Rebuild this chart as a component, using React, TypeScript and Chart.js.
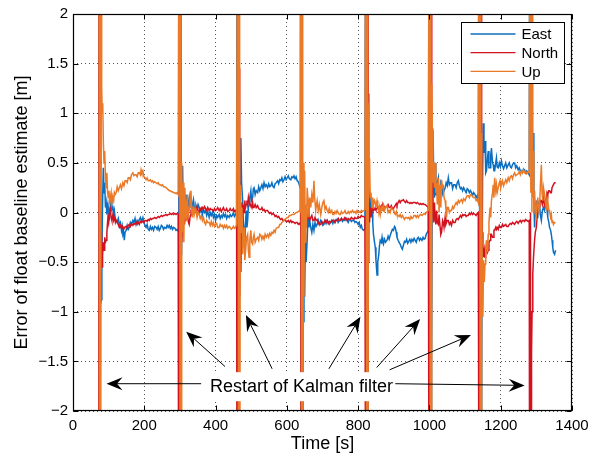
import React, { useEffect, useRef } from "react";
import { Chart, registerables } from "chart.js";

Chart.register(...registerables);

const seriesNames = ["East", "North", "Up"];
const seriesColors = ["#0b6fc1", "#d3121f", "#ea7a28"];
const xTickValues = [0, 200, 400, 600, 800, 1000, 1200, 1400];
const yTickValues = [-2, -1.5, -1, -0.5, 0, 0.5, 1, 1.5, 2];
const xTitle = "Time [s]";
const yTitle = "Error of float baseline estimate [m]";

// [time s, error m]
const eastData: number[][] = [
  [73,6],[74.5,-6],[76,6],[78,-0.6],[79.5,-0.88],[81,-0.4],[83,0.1],[85,0.45],[87,0.2],[89,0.3],[91,0.05],[93,0.1],[95,-0.02],[98,0.08],[100,0.02],[102,-0.08],[104,0.05],[107,0.12],[109,0.03],[112,0.05],[114,-0.02],[116,0.02],[118,-0.05],[121,-0.08],[124,-0.1],[127,-0.06],[130,-0.12],[133,-0.1],[136,-0.18],[138,-0.14],[140,-0.22],[142,-0.2],[144,-0.28],[146,-0.2],[149,-0.18],[152,-0.13],[155,-0.17],[158,-0.15],[161,-0.1],[164,-0.12],[168,-0.08],[171,-0.1],[174,-0.06],[177,-0.12],[180,-0.08],[183,-0.1],[186,-0.07],[189,-0.05],[192,-0.09],[196,-0.05],[199,-0.1],[202,-0.13],[205,-0.15],[208,-0.12],[211,-0.17],[214,-0.18],[217,-0.14],[220,-0.17],[223,-0.15],[226,-0.18],[229,-0.14],[233,-0.15],[236,-0.17],[239,-0.14],[242,-0.18],[245,-0.16],[248,-0.13],[251,-0.14],[254,-0.17],[257,-0.15],[261,-0.16],[264,-0.13],[267,-0.15],[270,-0.13],[273,-0.16],[276,-0.14],[279,-0.17],[282,-0.15],[286,-0.16],[289,-0.18],[292,-0.17],[295,-0.19],
  [297,6],[298.5,-6],[300,6],[301.5,-6],[303,-0.2],[304.5,-0.43],[306,0.1],[307.5,0.47],[309,0.1],[311,0.25],[313,0.05],[315,0.18],[317,0.05],[319,0.12],[322,0.02],[324,0.1],[326,0.15],[328,0.06],[331,0.1],[333,0.04],[335,0.08],[338,0.13],[340,0.06],[343,0.02],[345,0.07],[348,0.03],[351,0.08],[354,0.05],[357,0.01],[360,0.04],[363,-0.02],[366,0.03],[369,0],[372,0.02],[375,-0.03],[378,0.01],[382,-0.05],[385,0],[388,-0.03],[391,0],[394,-0.05],[397,-0.02],[400,-0.08],[403,-0.03],[406,-0.05],[410,-0.02],[413,-0.06],[416,-0.03],[419,-0.05],[422,-0.01],[425,-0.04],[428,-0.02],[431,-0.06],[434,-0.03],[438,-0.05],[441,-0.02],[444,-0.04],[447,-0.03],[450,0],[453,-0.04],[456,-0.02],[459,0.01],
  [461,6],[462.5,-6],[464,6],[465.5,-6],[467,-0.1],[469,0.3],[471,0.75],[473,0.3],[476,0.12],[478,-0.1],[480,-0.18],[482,-0.35],[484,-0.1],[486,0.02],[488,-0.15],[490,-0.08],[492,0.05],[494,0.08],[496,0.15],[499,0.22],[501,0.12],[504,0.15],[506,0.24],[508,0.25],[511,0.18],[514,0.22],[518,0.2],[521,0.26],[524,0.22],[527,0.25],[530,0.28],[533,0.24],[536,0.3],[539,0.26],[542,0.28],[546,0.25],[549,0.29],[552,0.26],[555,0.27],[558,0.3],[561,0.26],[564,0.25],[567,0.29],[570,0.3],[574,0.32],[577,0.29],[580,0.33],[583,0.32],[586,0.35],[589,0.31],[592,0.33],[595,0.36],[598,0.33],[601,0.35],[604,0.37],[607,0.34],[611,0.33],[614,0.36],[617,0.35],[620,0.37],[623,0.34],[626,0.36],[629,0.32],[632,0.31],[635,0.28],[637,0.25],
  [639,6],[640.5,-6],[642,6],[643.5,-6],[645,-0.6],[646.5,-1.1],[648,-0.42],[650,-0.85],[652,-0.2],[654,-0.5],[657,-0.28],[660,0.05],[662,-0.15],[664,-0.08],[667,-0.15],[670,-0.2],[673,-0.12],[676,-0.18],[679,-0.1],[682,-0.14],[685,-0.12],[688,-0.08],[691,-0.12],[695,-0.08],[698,-0.1],[701,-0.13],[704,-0.12],[707,-0.08],[710,-0.11],[713,-0.08],[716,-0.1],[719,-0.12],[723,-0.1],[726,-0.08],[729,-0.11],[732,-0.08],[735,-0.1],[738,-0.07],[741,-0.07],[744,-0.1],[747,-0.08],[750,-0.08],[753,-0.06],[756,-0.09],[760,-0.07],[763,-0.08],[766,-0.06],[769,-0.08],[772,-0.1],[775,-0.07],[778,-0.07],[781,-0.09],[784,-0.08],[788,-0.08],[791,-0.1],[794,-0.09],[797,-0.1],[800,-0.12],[803,-0.1],[806,-0.15],[809,-0.13],[812,-0.17],[816,-0.18],[819,-0.16],
  [822,6],[823.5,-6],[825,6],[826.5,-6],[828,1.2],[830,0.25],[832,0.1],[834,-0.02],[836,0.12],[839,0.08],[841,-0.1],[843,-0.22],[846,-0.3],[848,-0.35],[850,-0.48],[853,-0.63],[855,-0.5],[858,-0.42],[860,-0.33],[862,-0.28],[865,-0.3],[867,-0.25],[869,-0.3],[871,-0.32],[874,-0.27],[877,-0.3],[881,-0.28],[884,-0.24],[887,-0.27],[890,-0.23],[893,-0.2],[896,-0.17],[899,-0.18],[902,-0.14],[904,-0.15],[907,-0.2],[909,-0.25],[912,-0.28],[915,-0.3],[918,-0.32],[921,-0.35],[924,-0.37],[927,-0.33],[930,-0.29],[933,-0.3],[936,-0.27],[939,-0.31],[942,-0.29],[945,-0.27],[948,-0.3],[951,-0.27],[954,-0.29],[957,-0.26],[960,-0.28],[963,-0.3],[966,-0.26],[969,-0.25],[972,-0.28],[975,-0.26],[979,-0.28],[982,-0.25],[985,-0.27],[988,-0.26],[991,-0.22],[994,-0.2],[997,-0.18],
  [1000,6],[1001.5,-6],[1003,6],[1004.5,-6],[1006,-1.55],[1008,0.2],[1010,0.83],[1012,0.4],[1014,0.15],[1016,0.5],[1018,0.18],[1020,0.18],[1022,0.3],[1025,0.35],[1027,0.2],[1030,0.22],[1032,0.3],[1034,0.28],[1037,0.2],[1039,0.25],[1041,0.22],[1044,0.25],[1047,0.3],[1050,0.27],[1053,0.35],[1056,0.28],[1059,0.3],[1062,0.3],[1065,0.24],[1068,0.28],[1072,0.28],[1075,0.25],[1078,0.3],[1081,0.32],[1084,0.27],[1087,0.24],[1090,0.25],[1093,0.22],[1096,0.25],[1100,0.22],[1103,0.2],[1106,0.24],[1109,0.23],[1112,0.2],[1115,0.22],[1118,0.2],[1121,0.17],[1124,0.2],[1128,0.18],[1131,0.15],[1134,0.17],[1137,0.12],
  [1140,6],[1141.5,-6],[1143,6],[1144.5,-6],[1147,-1.2],[1149,0.3],[1151,0.9],[1153,0.6],[1156,0.72],[1158,0.4],[1160,0.42],[1163,0.55],[1165,0.62],[1167,0.45],[1170,0.45],[1172,0.58],[1174,0.65],[1177,0.5],[1179,0.48],[1181,0.42],[1183,0.42],[1186,0.5],[1188,0.55],[1190,0.46],[1193,0.45],[1196,0.5],[1199,0.46],[1202,0.52],[1205,0.47],[1208,0.44],[1211,0.47],[1214,0.5],[1217,0.45],[1221,0.48],[1224,0.5],[1227,0.46],[1230,0.45],[1233,0.48],[1236,0.5],[1239,0.5],[1242,0.45],[1245,0.47],[1249,0.43],[1252,0.45],[1255,0.42],[1258,0.42],[1261,0.4],[1264,0.44],[1267,0.43],[1270,0.4],[1273,0.42],[1277,0.4],[1280,0.38],
  [1283,6],[1285,1.2],[1287,2.5],[1289,0.5],[1291,0.8],[1293,0.12],[1295,-0.15],[1297,0.05],[1300,0.12],[1302,-0.05],[1304,-0.02],[1306,0.1],[1309,0.08],[1311,-0.02],[1314,-0.08],[1317,0.02],[1320,0.05],[1323,0.02],[1326,0.08],[1328,0.12],[1330,0.02],[1332,-0.05],[1335,-0.1],[1337,-0.15],[1340,-0.18],[1342,-0.22],[1344,-0.28],[1346,-0.35],[1348,-0.4],[1351,-0.42],[1354,-0.38],
];

const northData: number[][] = [
  [72,-6],[73.5,6],[75,-6],[77,-0.91],[78.5,-0.6],[80,-0.2],[81.5,-0.55],[83,-0.43],[85,-0.3],[87,-0.38],[89,-0.25],[91,-0.3],[93,-0.28],[95,-0.2],[98,-0.05],[100,-0.1],[102,-0.02],[105,0.03],[107,-0.05],[109,-0.08],[112,-0.02],[114,-0.08],[117,-0.05],[119,-0.1],[121,-0.08],[124,-0.1],[127,-0.12],[130,-0.15],[133,-0.13],[136,-0.16],[139,-0.14],[142,-0.17],[145,-0.15],[149,-0.14],[152,-0.16],[155,-0.13],[158,-0.12],[161,-0.14],[164,-0.11],[168,-0.13],[171,-0.11],[174,-0.12],[177,-0.1],[180,-0.12],[183,-0.1],[186,-0.12],[189,-0.09],[192,-0.1],[196,-0.09],[199,-0.1],[202,-0.08],[205,-0.08],[208,-0.09],[211,-0.07],[214,-0.08],[217,-0.06],[220,-0.07],[223,-0.06],[226,-0.06],[229,-0.05],[233,-0.06],[236,-0.05],[239,-0.04],[242,-0.05],[245,-0.04],[248,-0.03],[251,-0.04],[254,-0.03],[257,-0.03],[261,-0.02],[264,-0.03],[267,-0.02],[270,-0.02],[273,-0.01],[276,-0.02],[279,-0.01],[282,-0.02],[286,-0.01],[289,-0.02],[292,-0.01],[295,-0.02],
  [297.5,-6],[299,6],[300.5,-6],[302,6],[303.5,-0.1],[305,-0.3],[307,-0.15],[309,0.05],[311,-0.05],[313,-0.12],[315,-0.02],[317,-0.08],[320,0.02],[322,-0.05],[324,-0.1],[326,-0.12],[329,-0.03],[331,0.03],[333,-0.02],[335,-0.02],[338,0.05],[340,0.03],[343,0],[345,0.02],[348,0.06],[351,0.02],[354,0],[357,0.04],[360,0.02],[363,0.05],[366,0.03],[369,0.06],[372,0.04],[375,0.02],[378,0.05],[382,0.02],[385,0.04],[388,0.03],[391,0.03],[394,0.01],[397,0.04],[400,0.02],[403,0.03],[406,0.05],[410,0.02],[413,0.04],[416,0.01],[419,0.03],[422,0.05],[425,0.02],[428,0.02],[431,0.04],[434,0.01],[438,0.02],[441,0.04],[444,0.02],[447,0.02],[450,0.04],[453,0.01],[456,0.02],[459,0],
  [461.5,-6],[463,6],[464.5,-6],[466,1.45],[467.5,-0.85],[469,-0.3],[471,-0.6],[473,0.1],[475,-0.05],[477,0.08],[480,0],[482,0.12],[484,0.05],[486,0.08],[488,0.12],[490,0.08],[492,0.15],[494,0.1],[496,0.08],[499,0.08],[502,0.05],[504,0.1],[506,0.05],[508,0.05],[511,0.08],[514,0.05],[518,0.07],[521,0.04],[524,0.03],[527,0.03],[530,0.05],[533,0.02],[536,0.03],[539,0.01],[542,0.02],[546,0.02],[549,0],[552,-0.01],[555,0],[558,-0.02],[561,-0.01],[564,-0.02],[567,-0.04],[570,-0.03],[574,-0.05],[577,-0.04],[580,-0.06],[583,-0.07],[586,-0.06],[589,-0.08],[592,-0.08],[595,-0.07],[598,-0.09],[601,-0.09],[604,-0.08],[607,-0.1],[611,-0.08],[614,-0.1],[617,-0.09],[620,-0.1],[623,-0.11],[626,-0.1],[629,-0.1],[632,-0.12],[635,-0.11],[637,-0.12],
  [638.5,6],[640,-6],[641.5,6],[643,-6],[645,-0.3],[647,-0.15],[649,-0.25],[651,-0.1],[653,-0.05],[655,-0.15],[657,-0.08],[660,-0.05],[662,-0.02],[664,-0.08],[667,-0.05],[670,-0.03],[673,-0.08],[676,-0.08],[679,-0.05],[682,-0.08],[685,-0.07],[688,-0.1],[691,-0.12],[695,-0.12],[698,-0.09],[701,-0.11],[704,-0.1],[707,-0.08],[710,-0.1],[713,-0.08],[716,-0.11],[719,-0.09],[723,-0.1],[726,-0.08],[729,-0.08],[732,-0.08],[735,-0.1],[738,-0.08],[741,-0.08],[744,-0.06],[747,-0.08],[750,-0.08],[753,-0.06],[756,-0.07],[760,-0.07],[763,-0.05],[766,-0.06],[769,-0.08],[772,-0.06],[775,-0.07],[778,-0.07],[781,-0.05],[784,-0.06],[788,-0.07],[791,-0.05],[794,-0.06],[797,-0.06],[800,-0.04],[803,-0.05],[806,-0.05],[809,-0.03],[812,-0.04],[816,-0.04],[819,-0.05],
  [822.5,-6],[824,6],[825.5,-6],[827,6],[828.5,-0.5],[830,0.1],[832,-0.1],[834,0.05],[836,-0.05],[839,0.02],[841,0.04],[843,0.02],[846,0.03],[848,0.05],[850,0.03],[853,0.04],[855,0.06],[858,0.05],[860,0.03],[862,0.05],[865,0.07],[867,0.05],[869,0.06],[871,0.03],[874,0.06],[877,0.05],[881,0.06],[884,0.08],[887,0.05],[890,0.05],[893,0.07],[896,0.04],[899,0.04],[902,0.06],[904,0.07],[907,0.09],[909,0.07],[912,0.1],[915,0.12],[918,0.1],[921,0.12],[924,0.12],[927,0.13],[930,0.11],[933,0.1],[936,0.12],[939,0.1],[942,0.1],[945,0.09],[948,0.1],[951,0.09],[954,0.1],[957,0.1],[960,0.1],[963,0.09],[966,0.1],[969,0.09],[972,0.08],[975,0.09],[979,0.08],[982,0.09],[985,0.08],[988,0.08],[991,0.07],[994,0.06],[997,0.05],
  [1000.5,-6],[1002,6],[1003.5,-6],[1005,6],[1006.5,0.53],[1008,0.2],[1010,-0.05],[1012,-0.1],[1014,0.1],[1016,-0.05],[1018,-0.12],[1020,0.02],[1022,-0.1],[1025,-0.12],[1027,-0.02],[1030,-0.15],[1032,-0.22],[1034,-0.2],[1037,-0.08],[1039,-0.1],[1041,-0.15],[1044,-0.05],[1046,-0.12],[1048,-0.1],[1050,-0.08],[1053,-0.08],[1056,-0.12],[1059,-0.1],[1062,-0.13],[1065,-0.08],[1068,-0.1],[1072,-0.1],[1075,-0.07],[1078,-0.06],[1081,-0.07],[1084,-0.05],[1087,-0.03],[1090,-0.05],[1093,-0.02],[1096,-0.03],[1100,-0.02],[1103,-0.04],[1106,-0.03],[1109,-0.03],[1112,-0.01],[1115,-0.02],[1118,0],[1121,-0.02],[1124,-0.01],[1128,-0.02],[1131,-0.03],[1134,-0.01],[1137,0],
  [1140.5,-6],[1142,6],[1143.5,-6],[1145,6],[1146.5,0.75],[1148,-0.2],[1150,-0.35],[1152,-0.45],[1154,-0.38],[1156,-0.45],[1158,-0.35],[1160,-0.35],[1163,-0.4],[1165,-0.38],[1167,-0.3],[1170,-0.28],[1172,-0.22],[1174,-0.22],[1177,-0.25],[1179,-0.25],[1181,-0.18],[1183,-0.18],[1186,-0.15],[1188,-0.17],[1190,-0.15],[1193,-0.17],[1196,-0.13],[1199,-0.15],[1202,-0.15],[1205,-0.12],[1208,-0.14],[1211,-0.13],[1214,-0.12],[1217,-0.14],[1221,-0.14],[1224,-0.12],[1227,-0.11],[1230,-0.12],[1233,-0.1],[1236,-0.11],[1239,-0.12],[1242,-0.1],[1245,-0.09],[1249,-0.11],[1252,-0.09],[1255,-0.08],[1258,-0.1],[1261,-0.08],[1264,-0.08],[1267,-0.09],[1270,-0.07],[1273,-0.08],[1277,-0.09],[1280,-0.08],
  [1282,-6],[1283.5,0],[1285,-6],[1286.5,-1.4],[1288,-1],[1290,-0.62],[1292,-0.45],[1295,-0.28],[1297,-0.2],[1300,-0.15],[1302,-0.05],[1304,-0.05],[1306,0.05],[1309,0.05],[1311,0.12],[1314,0.12],[1317,0.08],[1320,0.15],[1323,0.08],[1326,0.12],[1328,0.15],[1330,0.2],[1332,0.18],[1335,0.22],[1337,0.22],[1340,0.2],[1342,0.2],[1344,0.25],[1346,0.25],[1348,0.28],[1351,0.3],[1354,0.3],
];

const upData: number[][] = [
  [73,6],[74.5,-6],[76,6],[77.5,-6],[79,6],[80.5,1.25],[82,1.0],[83.5,1.1],[85,0.73],[87,0.5],[89,0.62],[91,0.35],[93,0.25],[95,0.4],[97,0.2],[99,0.15],[101,0.22],[103,0.08],[105,0.15],[107,0.2],[109,0.1],[112,0.15],[114,0.12],[116,0.2],[118,0.18],[121,0.2],[124,0.26],[127,0.22],[130,0.25],[133,0.28],[136,0.24],[140,0.3],[143,0.27],[146,0.32],[149,0.32],[152,0.3],[155,0.35],[158,0.35],[161,0.33],[164,0.38],[168,0.4],[171,0.37],[174,0.38],[177,0.38],[180,0.36],[183,0.4],[186,0.4],[189,0.38],[191,0.43],[193,0.4],[196,0.42],[199,0.36],[202,0.35],[205,0.33],[208,0.35],[211,0.32],[214,0.32],[217,0.33],[220,0.31],[223,0.32],[226,0.3],[229,0.31],[233,0.3],[236,0.29],[239,0.3],[242,0.28],[245,0.28],[248,0.27],[251,0.28],[254,0.26],[257,0.26],[261,0.25],[264,0.24],[267,0.23],[270,0.22],[273,0.22],[276,0.21],[279,0.21],[282,0.2],[286,0.2],[289,0.19],[292,0.2],[295,0.18],
  [299,6],[300.5,-6],[302,6],[303.5,-6],[305,0.5],[307,-0.2],[309,0.3],[311,-0.3],[312.5,0.15],[314,0.25],[316,-0.05],[317.5,-0.08],[319,0.1],[321,0.18],[323,-0.05],[326,0.05],[328,0.12],[331,0.22],[333,0.02],[335,-0.05],[338,0.06],[340,-0.02],[343,0.04],[345,0.02],[348,-0.05],[351,0],[354,-0.02],[357,-0.06],[360,-0.03],[363,-0.08],[366,-0.05],[369,-0.1],[372,-0.12],[375,-0.08],[378,-0.1],[382,-0.1],[385,-0.13],[388,-0.09],[391,-0.13],[394,-0.1],[397,-0.14],[400,-0.12],[403,-0.11],[406,-0.15],[410,-0.15],[413,-0.12],[416,-0.14],[419,-0.13],[422,-0.16],[425,-0.13],[428,-0.15],[431,-0.13],[434,-0.16],[438,-0.14],[441,-0.15],[444,-0.17],[447,-0.16],[450,-0.14],[453,-0.16],[456,-0.15],[459,-0.12],
  [463,6],[464.5,-6],[466,6],[467.5,-6],[469,0.25],[470,0.28],[472,-0.2],[474,0.05],[476,-0.42],[478,-0.25],[480,-0.15],[482,-0.48],[485,-0.35],[487,-0.25],[490,-0.22],[492,-0.38],[494,-0.45],[496,-0.28],[499,-0.18],[501,-0.3],[504,-0.32],[506,-0.25],[508,-0.22],[511,-0.3],[514,-0.27],[518,-0.25],[521,-0.28],[524,-0.22],[527,-0.23],[530,-0.27],[533,-0.24],[536,-0.27],[539,-0.22],[542,-0.25],[546,-0.22],[549,-0.25],[552,-0.21],[555,-0.23],[558,-0.2],[561,-0.21],[564,-0.18],[567,-0.2],[570,-0.16],[574,-0.15],[577,-0.15],[580,-0.12],[583,-0.12],[586,-0.1],[589,-0.09],[592,-0.08],[595,-0.07],[598,-0.06],[601,-0.05],[604,-0.05],[607,-0.03],[611,-0.03],[614,-0.02],[617,-0.02],[620,-0.02],[623,-0.01],[626,0],[629,0],[632,0.01],[635,0.02],[637,0.01],
  [640,6],[641.5,-6],[643,6],[644.5,-6],[646,0.5],[648,-0.85],[650,0.42],[652,-0.3],[653.5,0.08],[655,-0.15],[657,0.25],[660,0.1],[662,-0.05],[664,0.15],[667,0.05],[670,0.18],[673,0.1],[676,0.32],[678,0.15],[681,0.02],[683,0.08],[685,0.12],[688,0.02],[691,0.08],[695,-0.02],[698,0.05],[701,0.1],[704,0.12],[707,0.03],[710,0.06],[713,0.02],[716,0],[719,0.04],[723,0],[726,0.02],[729,-0.02],[732,-0.02],[735,0.01],[738,-0.01],[741,0.02],[744,0],[747,-0.02],[750,-0.02],[753,0.01],[756,-0.01],[760,0],[763,0.02],[766,-0.01],[769,-0.01],[772,0.01],[775,-0.01],[778,0.01],[781,0],[784,0.02],[788,0],[791,0.01],[794,-0.01],[797,0.02],[800,0],[803,0.01],[806,0],[809,0.02],[812,0.01],[816,0.02],[819,0.03],
  [822.5,6],[824,-6],[825.5,6],[827.2,-6],[828.5,1.1],[830,0.3],[832,0.55],[834,0.15],[836,0.2],[839,0.05],[841,0.15],[843,0.08],[846,0.12],[848,0.1],[850,0.05],[853,0.12],[855,0.08],[858,0],[860,0.05],[862,-0.02],[865,0.05],[867,0.02],[869,0.06],[871,0.08],[874,0.02],[877,0.05],[881,0.07],[884,0],[887,0.02],[890,0],[893,0.05],[896,0.03],[899,0.03],[902,-0.01],[904,-0.02],[907,0.01],[909,-0.02],[912,-0.03],[915,-0.04],[918,-0.02],[921,-0.05],[924,-0.03],[927,-0.05],[930,-0.07],[933,-0.05],[936,-0.05],[939,-0.06],[942,-0.05],[945,-0.07],[948,-0.04],[951,-0.06],[954,-0.05],[957,-0.03],[960,-0.03],[963,-0.05],[966,-0.03],[969,-0.05],[972,-0.03],[975,-0.02],[979,-0.03],[982,-0.02],[985,-0.01],[988,-0.02],[991,0],[994,0.01],[997,0.02],
  [1001,6],[1002.5,-6],[1004,6],[1005.2,-6],[1006.5,1.3],[1008,0.85],[1010,0.3],[1012,0.5],[1014,0.25],[1016,0.5],[1018,0.2],[1020,0.3],[1022,0.08],[1025,0.35],[1027,0],[1030,0.28],[1032,0.05],[1034,0.33],[1037,0.25],[1039,0.25],[1041,0.15],[1044,0.12],[1046,0.05],[1048,-0.05],[1050,0.05],[1053,0.05],[1056,0],[1059,0.02],[1062,0.02],[1065,0.06],[1068,0.04],[1072,0.08],[1075,0.1],[1078,0.08],[1081,0.12],[1084,0.1],[1087,0.12],[1090,0.13],[1093,0.1],[1096,0.14],[1100,0.12],[1103,0.15],[1106,0.17],[1109,0.17],[1112,0.15],[1115,0.18],[1118,0.18],[1121,0.16],[1124,0.15],[1128,0.15],[1131,0.12],[1134,0.13],[1137,0.1],
  [1141,6],[1142.5,-6],[1144,6],[1145.2,-6],[1146.5,0.8],[1148,-0.6],[1150,-1.05],[1152,-0.48],[1154,-0.7],[1156,-0.52],[1158,-0.35],[1160,-0.28],[1163,-0.4],[1165,-0.22],[1167,-0.1],[1170,0.05],[1172,-0.05],[1174,0.12],[1177,0.2],[1179,0.28],[1181,0.15],[1183,0.35],[1186,0.22],[1188,0.28],[1190,0.2],[1193,0.25],[1196,0.3],[1198,0.32],[1200,0.25],[1202,0.28],[1205,0.32],[1208,0.27],[1211,0.3],[1214,0.33],[1217,0.3],[1221,0.35],[1224,0.32],[1227,0.36],[1230,0.37],[1233,0.34],[1236,0.38],[1239,0.4],[1242,0.37],[1245,0.38],[1249,0.39],[1252,0.41],[1255,0.38],[1258,0.42],[1261,0.4],[1264,0.43],[1267,0.4],[1270,0.41],[1273,0.39],[1277,0.41],[1280,0.4],
  [1283,6],[1284.5,0.2],[1286,6],[1287.5,0],[1289,6],[1290,0.15],[1291,0.62],[1293,-0.02],[1295,0.22],[1297,0.05],[1300,-0.02],[1302,0.12],[1304,0.15],[1306,0.02],[1309,0.05],[1311,0.25],[1314,0.48],[1316,0.2],[1318,0.12],[1320,0.25],[1323,0.18],[1326,0.08],[1328,0.05],[1330,0.15],[1332,0.12],[1335,0.02],[1337,0.02],[1340,-0.05],[1342,-0.02],[1344,-0.1],[1346,-0.08],[1348,-0.12],[1351,-0.1],[1354,-0.1],
];

const annotationText = "Restart of Kalman filter";
const annotationAnchor = [641, -1.75];
// [tail time, tail value, head time, head value]
const arrowList: number[][] = [
  [359.5, -1.725, 94, -1.725],
  [426.5, -1.552, 317.6, -1.201],
  [558.7, -1.575, 485.2, -1.034],
  [717.9, -1.575, 806.4, -1.051],
  [852, -1.562, 974, -1.074],
  [888.3, -1.585, 1116.5, -1.234],
  [904.2, -1.725, 1267.3, -1.742],
];

const FONT = "'Liberation Sans', Arial, Helvetica, sans-serif";

function drawArrow(ctx: CanvasRenderingContext2D, x0: number, y0: number, x1: number, y1: number) {
  const ang = Math.atan2(y1 - y0, x1 - x0);
  const c = Math.cos(ang), s = Math.sin(ang);
  const L = 16, W = 6.5, N = 10.5;
  const bx = x1 - N * c, by = y1 - N * s;
  ctx.beginPath();
  ctx.moveTo(x0, y0);
  ctx.lineTo(bx, by);
  ctx.stroke();
  ctx.beginPath();
  ctx.moveTo(x1, y1);
  ctx.lineTo(x1 - L * c + W * s, y1 - L * s - W * c);
  ctx.lineTo(bx, by);
  ctx.lineTo(x1 - L * c - W * s, y1 - L * s + W * c);
  ctx.closePath();
  ctx.fill();
}

const decorPlugin = {
  id: "matlabDecor",
  afterDatasetsDraw(chart: any) {
    const { ctx, chartArea: a, scales } = chart;
    const xs = scales.x, ys = scales.y;
    ctx.save();
    // annotation box + text
    ctx.font = `18px ${FONT}`;
    const cx = xs.getPixelForValue(annotationAnchor[0]);
    const cy = ys.getPixelForValue(annotationAnchor[1]);
    const w = ctx.measureText(annotationText).width;
    ctx.fillStyle = "#fff";
    ctx.fillRect(cx - w / 2 - 6, cy - 14, w + 12, 29);
    ctx.fillStyle = "#000";
    ctx.textAlign = "center";
    ctx.textBaseline = "middle";
    ctx.fillText(annotationText, cx, cy + 1);
    // arrows
    ctx.strokeStyle = "#000";
    ctx.lineWidth = 1;
    for (const [t0, v0, t1, v1] of arrowList) {
      drawArrow(ctx, xs.getPixelForValue(t0), ys.getPixelForValue(v0), xs.getPixelForValue(t1), ys.getPixelForValue(v1));
    }
    // frame
    const L = Math.round(a.left) + 0.5, R = Math.round(a.right) - 0.5;
    const T = Math.round(a.top) + 0.5, B = Math.round(a.bottom) - 0.5;
    ctx.lineWidth = 1.2;
    ctx.strokeRect(L, T, R - L, B - T);
    ctx.lineWidth = 1;
    ctx.beginPath();
    for (const v of xTickValues) {
      const x = Math.round(xs.getPixelForValue(v)) + 0.5;
      ctx.moveTo(x, B); ctx.lineTo(x, B - 5);
      ctx.moveTo(x, T); ctx.lineTo(x, T + 5);
    }
    for (const v of yTickValues) {
      const y = Math.round(ys.getPixelForValue(v)) + 0.5;
      ctx.moveTo(L, y); ctx.lineTo(L + 5, y);
      ctx.moveTo(R, y); ctx.lineTo(R - 5, y);
    }
    ctx.stroke();
    // legend
    const bl = Math.round(a.right) - 110.5, bt = Math.round(a.top) + 8.5;
    const bw = 103, bh = 61;
    ctx.fillStyle = "#fff";
    ctx.fillRect(bl, bt, bw, bh);
    ctx.strokeStyle = "#000";
    ctx.lineWidth = 1;
    ctx.strokeRect(bl, bt, bw, bh);
    ctx.font = `15px ${FONT}`;
    ctx.textAlign = "left";
    ctx.textBaseline = "middle";
    seriesNames.forEach((name, i) => {
      const y = bt + 11.5 + i * 18.7;
      ctx.strokeStyle = seriesColors[i];
      ctx.lineWidth = 1.3;
      ctx.beginPath();
      ctx.moveTo(bl + 9, y);
      ctx.lineTo(bl + 54, y);
      ctx.stroke();
      ctx.fillStyle = "#000";
      ctx.fillText(name, bl + 60, y + 1);
    });
    ctx.restore();
  },
};

const toPoints = (arr: number[][]) => arr.map(([t, v]) => ({ x: t, y: v }));

export default function App() {
  const canvasRef = useRef<HTMLCanvasElement | null>(null);
  useEffect(() => {
    if (!canvasRef.current) return;
    const sources = [eastData, northData, upData];
    const chart = new Chart(canvasRef.current, {
      type: "line",
      data: {
        datasets: seriesNames.map((name, i) => ({
          label: name,
          data: toPoints(sources[i]),
          borderColor: seriesColors[i],
          backgroundColor: seriesColors[i],
          borderWidth: 1.5,
          pointRadius: 0,
          tension: 0,
          fill: false,
          order: 2 - i,
        })),
      },
      options: {
        animation: false,
        responsive: false,
        maintainAspectRatio: false,
        events: [],
        layout: { padding: { top: 12, right: 33, left: 0, bottom: 0 } },
        plugins: { legend: { display: false }, tooltip: { enabled: false } },
        scales: {
          x: {
            type: "linear",
            min: 0,
            max: 1400,
            afterFit: (s: any) => { s.height = 48; },
            afterBuildTicks: (s: any) => { s.ticks = xTickValues.map((v) => ({ value: v })); },
            ticks: { color: "#000", font: { size: 15, family: FONT }, padding: 6, maxRotation: 0, callback: (v: any) => String(v) },
            grid: { color: "#555", lineWidth: 1, drawTicks: false },
            border: { display: false, dash: [1, 3] },
            title: { display: true, text: xTitle, color: "#000", font: { size: 18, family: FONT }, padding: { top: 0, bottom: 4 } },
          },
          y: {
            type: "linear",
            min: -2,
            max: 2,
            afterFit: (s: any) => { s.width = 73; },
            afterBuildTicks: (s: any) => { s.ticks = yTickValues.map((v) => ({ value: v })); },
            ticks: {
              color: "#000",
              font: { size: 15, family: FONT },
              padding: 5,
              callback: (v: any) => (Number(v) < 0 ? "\u2212" + String(Math.abs(Number(v))) : String(v)),
            },
            grid: { color: "#555", lineWidth: 1, drawTicks: false },
            border: { display: false, dash: [1, 3] },
            title: { display: true, text: yTitle, color: "#000", font: { size: 18, family: FONT }, padding: { top: 11, bottom: 0 } },
          },
        },
      },
      plugins: [decorPlugin],
    });
    return () => chart.destroy();
  }, []);
  return (
    <div style={{ position: "fixed", left: 0, top: 0, width: 605, height: 459, background: "#fff" }}>
      <canvas ref={canvasRef} width={605} height={459} style={{ display: "block" }} />
    </div>
  );
}
